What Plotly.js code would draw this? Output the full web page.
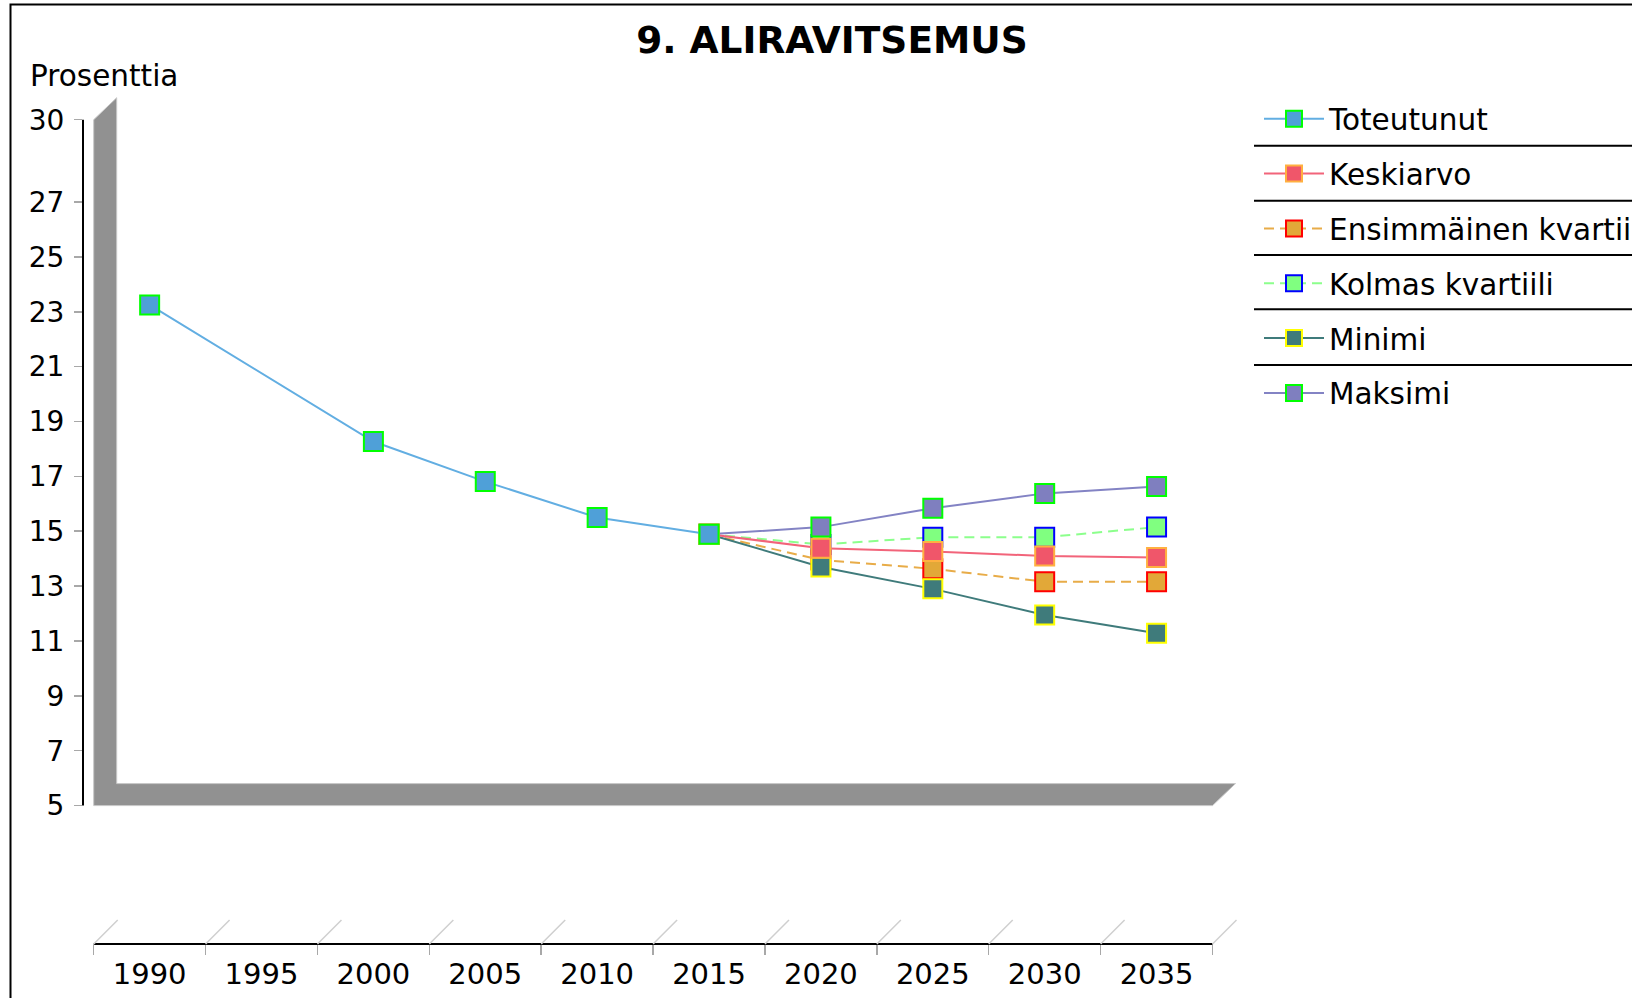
<!DOCTYPE html>
<html><head><meta charset="utf-8">
<script src="https://cdn.plot.ly/plotly-3.0.1.min.js"></script>
<style>html,body{margin:0;padding:0;background:#fff}#chart{width:1632px;height:998px}</style>
</head><body><div id="chart"></div>
<script>
// ---------- data ----------
const years = [1990, 1995, 2000, 2005, 2010, 2015, 2020, 2025, 2030, 2035];
const toteutunut  = [23.25, null, 18.27, 16.81, 15.50, 14.89, null, null, null, null];
const keskiarvo   = [null, null, null, null, null, 14.89, 14.38, 14.26, 14.10, 14.04];
const ensimmainen = [null, null, null, null, null, 14.89, 13.95, 13.63, 13.16, 13.16];
const kolmas      = [null, null, null, null, null, 14.89, 14.52, 14.78, 14.78, 15.15];
const minimi      = [null, null, null, null, null, 14.89, 13.70, 12.90, 11.95, 11.28];
const maksimi     = [null, null, null, null, null, 14.89, 15.15, 15.84, 16.38, 16.63];
const yTicks = [5, 7, 9, 11, 13, 15, 17, 19, 21, 23, 25, 27, 30];
const seriesNames = ['Toteutunut', 'Keskiarvo', 'Ensimmäinen kvartiili', 'Kolmas kvartiili', 'Minimi', 'Maksimi'];

// ---------- geometry ----------
const W = 1632, H = 998;
const L = 83, R = 1240, T = 80, B = 944;
const px2paperX = p => (p - L) / (R - L);
const px2paperY = p => (B - p) / (B - T);
const catPx = 111.88, firstBoundPx = 93.7, step = 5;
const xRange = [years[0] - step/2 - (firstBoundPx - L) / catPx * step,
                years[0] - step/2 + (R - firstBoundPx) / catPx * step];
const yMinV = 5, yMaxV = 30, yMinPx = 805.6, yMaxPx = 119.7;
const unitPx = (yMinPx - yMaxPx) / (yMaxV - yMinV);
const yRange = [yMinV - (B - yMinPx) / unitPx, yMaxV + (yMaxPx - T) / unitPx];
const depthX = 23 / catPx * step;   // in years
const depthY = 22 / unitPx;         // in value units
const bounds = years.map(y => y - step/2).concat([years[years.length-1] + step/2]);
const xLeft = bounds[0], xRight = bounds[bounds.length-1];

// ---------- traces ----------
function tr(name, vals, lineColor, fill, outline, dash, rank) {
  return {
    type: 'scatter', mode: 'lines+markers', name: name, x: years, y: vals,
    connectgaps: true, legendrank: rank, legendgroup: 'g' + rank,
    line: {color: lineColor, width: 2, dash: dash || 'solid'},
    marker: {symbol: 'square', size: 19, color: fill, line: {color: outline, width: 2}},
    hoverinfo: 'x+y'
  };
}
const data = [
  tr(seriesNames[3], kolmas, '#8cff8c', '#80ff80', '#0000ff', '10px,6px', 4),
  tr(seriesNames[2], ensimmainen, '#e8ac48', '#e2a838', '#ff0000', '10px,6px', 3),
  tr(seriesNames[5], maksimi, '#8383c4', '#7f7fbf', '#00ff00', null, 6),
  tr(seriesNames[4], minimi, '#3f7b7b', '#3f7b7b', '#ffff00', null, 5),
  tr(seriesNames[1], keskiarvo, '#f2647a', '#f0566a', '#ffb040', null, 2),
  tr(seriesNames[0], toteutunut, '#62aee2', '#4fa0d8', '#00ff00', null, 1)
];

// ---------- shapes ----------
const shapes = [];
// 3D wall + floor
shapes.push({type: 'path', xref: 'x', yref: 'y', layer: 'below',
  path: `M ${xLeft},${yMinV} L ${xLeft},${yMaxV} L ${xLeft+depthX},${yMaxV+depthY} L ${xLeft+depthX},${yMinV+depthY} L ${xRight+depthX},${yMinV+depthY} L ${xRight},${yMinV} Z`,
  fillcolor: '#919191', line: {color: '#c8c8c8', width: 1}});
// y axis line
shapes.push({type: 'line', xref: 'paper', yref: 'y', x0: 0, x1: 0, y0: yMinV, y1: yMaxV, line: {color: '#000', width: 2}});
// x axis line
shapes.push({type: 'line', xref: 'x', yref: 'paper', x0: xLeft, x1: xRight, y0: 0, y1: 0, line: {color: '#000', width: 2}});
// diagonal depth lines at category boundaries
bounds.forEach(b => {
  shapes.push({type: 'line', xref: 'x', yref: 'paper', x0: b, x1: b + 24 / catPx * step, y0: 0, y1: 24 / (B - T),
    line: {color: '#cfcfcf', width: 1.5}});
});
// legend separators
[145.7, 200.7, 255, 309.3, 365].forEach(p => {
  shapes.push({type: 'line', xref: 'paper', yref: 'paper', x0: px2paperX(1254), x1: px2paperX(1700),
    y0: px2paperY(p), y1: px2paperY(p), line: {color: '#000', width: 2}});
});
// outer frame
shapes.push({type: 'rect', xref: 'paper', yref: 'paper', x0: px2paperX(10.5), x1: px2paperX(1700),
  y0: px2paperY(1010), y1: px2paperY(4.5), line: {color: '#000', width: 2}, fillcolor: 'rgba(0,0,0,0)'});

const FONT = 'DejaVu Sans';
const layout = {
  width: W, height: H,
  margin: {l: L, r: W - R, t: T, b: H - B, autoexpand: false},
  paper_bgcolor: '#fff', plot_bgcolor: '#fff',
  showlegend: true,
  title: {text: '9. ALIRAVITSEMUS', font: {family: FONT, size: 37.5, weight: 'bold', color: '#000'},
          x: 832 / W, xref: 'container', xanchor: 'center', y: 1 - 40 / H, yref: 'container', yanchor: 'middle'},
  xaxis: {range: xRange, tickvals: years, ticktext: years.map(String), ticks: '', showline: false,
          showgrid: false, zeroline: false, tickfont: {family: FONT, size: 29, color: '#000'}, ticklabelstandoff: 10,
          fixedrange: true},
  xaxis2: {range: xRange, overlaying: 'x', anchor: 'y', side: 'bottom', tickvals: bounds, ticks: 'outside', ticklen: 10,
           tickcolor: '#a8a8a8', tickwidth: 1.5, showticklabels: false, showline: false, showgrid: false, zeroline: false},
  yaxis: {range: yRange, tickvals: yTicks, ticktext: yTicks.map(String), ticks: 'outside', ticklen: 8, tickcolor: '#a8a8a8',
          tickwidth: 1.5, showline: false, showgrid: false, zeroline: false,
          tickfont: {family: FONT, size: 28, color: '#000'}, ticklabelstandoff: 4, fixedrange: true},
  legend: {x: px2paperX(1259), xanchor: 'left', y: px2paperY(93), yanchor: 'top',
           font: {family: FONT, size: 29.5, color: '#000'}, itemwidth: 60, tracegroupgap: 13.5,
           bgcolor: 'rgba(0,0,0,0)', borderwidth: 0},
  annotations: [{text: 'Prosenttia', xref: 'paper', yref: 'paper', x: px2paperX(28), y: px2paperY(76),
                 xanchor: 'left', yanchor: 'middle', showarrow: false, font: {family: FONT, size: 29.5, color: '#000'}}],
  shapes: shapes
};
// dummy trace on xaxis2 so the boundary ticks are drawn
data.unshift({type: 'scatter', x: [years[0]], y: [null], xaxis: 'x2', yaxis: 'y', showlegend: false, hoverinfo: 'skip', mode: 'markers'});
Plotly.newPlot('chart', data, layout, {displayModeBar: false, staticPlot: true});
</script></body></html>
